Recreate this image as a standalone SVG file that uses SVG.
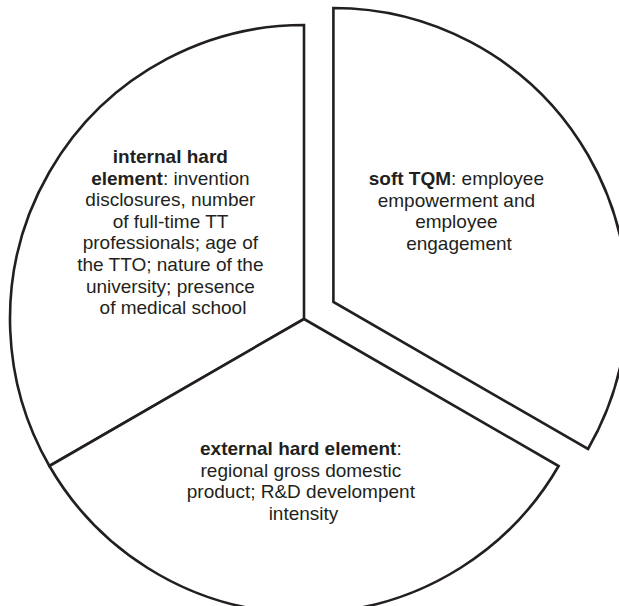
<svg xmlns="http://www.w3.org/2000/svg" width="619" height="606" viewBox="0 0 619 606">
  <style>
    .slice { fill: #ffffff; stroke: #231f20; stroke-width: 2.6; stroke-linejoin: miter; }
    .label { font-family: "Liberation Sans", Arial, sans-serif; font-size: 19px; fill: #231f20; text-anchor: middle; }
    .label .b { font-weight: bold; }
  </style>
  <rect width="619" height="606" fill="#ffffff"/>

  <!-- left slice: internal hard element -->
  <g id="internal-hard">
    <path class="slice" d="M304,319 L304,25 A294,294 0 0 0 49.4,466 Z"/>
    <text class="label">
      <tspan x="173" y="163" class="b">internal hard</tspan>
      <tspan x="173" y="184.6"><tspan class="b">element</tspan>: invention</tspan>
      <tspan x="173" y="206.2">disclosures, number</tspan>
      <tspan x="173" y="227.8">of full-time TT</tspan>
      <tspan x="173" y="249.4">professionals; age of</tspan>
      <tspan x="173" y="271">the TTO; nature of the</tspan>
      <tspan x="173" y="292.6">university; presence</tspan>
      <tspan x="173" y="314.2">of medical school</tspan>
    </text>
  </g>

  <!-- right slice (pulled out): soft TQM -->
  <g id="soft-tqm">
    <path class="slice" d="M333.4,302 L333.4,8 A294,294 0 0 1 588,449 Z"/>
    <text class="label">
      <tspan x="459" y="185"><tspan class="b">soft TQM</tspan>: employee</tspan>
      <tspan x="459" y="206.5">empowerment and</tspan>
      <tspan x="459" y="228">employee</tspan>
      <tspan x="459" y="249.5">engagement</tspan>
    </text>
  </g>

  <!-- bottom slice: external hard element -->
  <g id="external-hard">
    <path class="slice" d="M304,319 L558.6,466 A294,294 0 0 1 49.4,466 Z"/>
    <text class="label">
      <tspan x="303.5" y="455"><tspan class="b">external hard element</tspan>:</tspan>
      <tspan x="303.5" y="476.7">regional gross domestic</tspan>
      <tspan x="303.5" y="498.3">product; R&amp;D develompent</tspan>
      <tspan x="303.5" y="520">intensity</tspan>
    </text>
  </g>

  <g id="connectors"/>
</svg>
